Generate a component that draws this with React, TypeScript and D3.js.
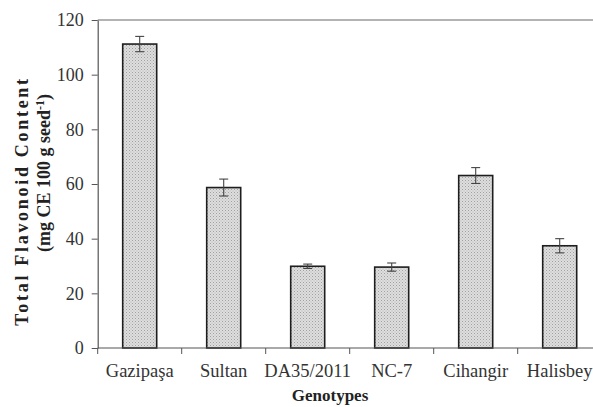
import React, { useEffect, useRef } from "react";
import * as d3 from "d3";

// values
const genotypes = ["Gazipaşa", "Sultan", "DA35/2011", "NC-7", "Cihangir", "Halisbey"];
const flavonoid = [111.2, 58.7, 29.9, 29.6, 63.1, 37.4];
const errors = [2.8, 3.1, 0.8, 1.5, 2.9, 2.6];
const yTicks = [0, 20, 40, 60, 80, 100, 120];

function BarChart() {
  const ref = useRef<SVGSVGElement>(null);

  useEffect(() => {
    const width = 593;
    const left = 97.7;
    const step = 84;
    const barWidth = 34;

    const svg = d3.select(ref.current);
    svg.selectAll("*").remove();

    const x = d3.scaleBand<string>(genotypes, [left, left + step * genotypes.length]).padding(0);
    const y = d3.scaleLinear([0, 120], [348, 20]);

    // dotted fill like the original
    const defs = svg.append("defs");
    const pat = defs.append("pattern")
      .attr("id", "dots")
      .attr("width", 3)
      .attr("height", 3)
      .attr("patternUnits", "userSpaceOnUse");
    pat.append("rect").attr("width", 3).attr("height", 3).attr("fill", "#dedede");
    pat.append("rect").attr("x", 0).attr("y", 0).attr("width", 1).attr("height", 1).attr("fill", "#a0a0a0");
    pat.append("rect").attr("x", 1.5).attr("y", 1.5).attr("width", 1).attr("height", 1).attr("fill", "#b5b5b5");

    // top border of plot area
    svg.append("line")
      .attr("x1", left).attr("x2", width)
      .attr("y1", y(120)).attr("y2", y(120))
      .attr("stroke", "#9a9a9a").attr("stroke-width", 1.5);

    // y axis
    const yAxis = d3.axisLeft(y).tickValues(yTicks).tickSize(6).tickSizeOuter(0).tickPadding(8);
    svg.append("g")
      .attr("transform", `translate(${left},0)`)
      .call(yAxis)
      .call(g => g.select(".domain").attr("stroke", "#555").attr("stroke-width", 1.2))
      .call(g => g.selectAll(".tick line").attr("stroke", "#555"))
      .call(g => g.selectAll(".tick text")
        .attr("font-family", "'Liberation Serif', serif")
        .attr("font-size", 18)
        .attr("fill", "#333"));

    // bars
    svg.append("g")
      .selectAll("rect")
      .data(genotypes)
      .join("rect")
      .attr("x", d => x(d)! + x.bandwidth() / 2 - barWidth / 2)
      .attr("y", (d, i) => y(flavonoid[i]))
      .attr("width", barWidth)
      .attr("height", (d, i) => y(0) - y(flavonoid[i]))
      .attr("fill", "url(#dots)")
      .attr("stroke", "#1e1e1e")
      .attr("stroke-width", 1.6);

    // error bars
    const eb = svg.append("g").attr("stroke", "#444").attr("stroke-width", 1.1);
    genotypes.forEach((g, i) => {
      const cx = x(g)! + x.bandwidth() / 2;
      const hi = y(flavonoid[i] + errors[i]);
      const lo = y(flavonoid[i] - errors[i]);
      eb.append("line").attr("x1", cx).attr("x2", cx).attr("y1", hi).attr("y2", lo);
      eb.append("line").attr("x1", cx - 4.5).attr("x2", cx + 4.5).attr("y1", hi).attr("y2", hi);
      eb.append("line").attr("x1", cx - 4.5).attr("x2", cx + 4.5).attr("y1", lo).attr("y2", lo);
    });

    // x axis with ticks between categories
    const xg = svg.append("g");
    xg.append("line")
      .attr("x1", left).attr("x2", width)
      .attr("y1", y(0)).attr("y2", y(0))
      .attr("stroke", "#555").attr("stroke-width", 1.2);
    xg.selectAll("line.tk")
      .data(genotypes)
      .join("line")
      .attr("class", "tk")
      .attr("x1", d => x(d)!).attr("x2", d => x(d)!)
      .attr("y1", y(0)).attr("y2", y(0) + 6)
      .attr("stroke", "#555");
    xg.selectAll("text")
      .data(genotypes)
      .join("text")
      .attr("x", d => x(d)! + x.bandwidth() / 2)
      .attr("y", 377)
      .attr("text-anchor", "middle")
      .attr("font-family", "'Liberation Serif', serif")
      .attr("font-size", 18.5)
      .attr("fill", "#333")
      .text(d => d);

    // axis titles
    svg.append("text")
      .attr("x", 330)
      .attr("y", 401)
      .attr("text-anchor", "middle")
      .attr("font-family", "'Liberation Serif', serif")
      .attr("font-weight", "bold")
      .attr("font-size", 17)
      .attr("fill", "#222")
      .text("Genotypes");

    const yt = svg.append("g")
      .attr("font-family", "'Liberation Serif', serif")
      .attr("font-weight", "bold")
      .attr("font-size", 18)
      .attr("fill", "#222")
      .attr("text-anchor", "middle");
    yt.append("text")
      .attr("transform", "translate(28,201) rotate(-90)")
      .attr("letter-spacing", 2.7)
      .text("Total Flavonoid Content");
    const t2 = yt.append("text")
      .attr("transform", "translate(50,173) rotate(-90)");
    t2.append("tspan").text("(mg CE 100 g seed");
    t2.append("tspan").attr("font-size", 12).attr("dy", -6).text("-1");
    t2.append("tspan").attr("dy", 6).text(")");
  }, []);

  return <svg ref={ref} width={593} height={407} style={{ display: "block" }} />;
}

export default function App() {
  return (
    <div style={{ position: "absolute", left: 0, top: 0, background: "#fff" }}>
      <BarChart />
    </div>
  );
}
